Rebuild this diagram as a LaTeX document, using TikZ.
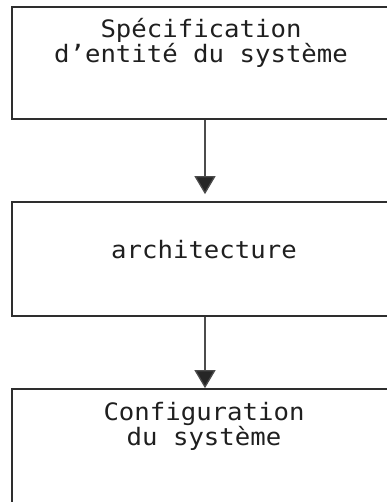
\documentclass[tikz,border=0pt]{standalone}
\usepackage{fontspec}
\newfontfamily\monofont[FakeStretch=1.07]{DejaVu Sans Mono}
\usetikzlibrary{arrows.meta}
\tikzset{
  box/.style={draw=black!82, line width=1.7pt, minimum width=386pt, inner sep=0pt},
  boxtext/.style={font=\monofont\fontsize{24}{25}\selectfont, text=black!88, align=center, inner sep=0pt, anchor=base},
  flow/.style={draw=black!70, line width=1.3pt, -{Triangle[length=18pt,width=21pt,fill=black!85]}}
}
\begin{document}
\begin{tikzpicture}[x=1pt,y=-1pt]
  \useasboundingbox (0,0) rectangle (387,502);
  \clip (0,0) rectangle (387,502);
  % the three stages
  \node[box, minimum height=112pt] (b1) at (205,63) {};
  \node[box, minimum height=114pt] (b2) at (205,259) {};
  \node[box, minimum height=130pt] (b3) at (205,454) {};
  % their labels (anchored on the baseline of the last line)
  \node[boxtext] (t1) at (201,63) {Spécification\\d’entité du système};
  \node[boxtext] (t2) at (204,258) {architecture};
  \node[boxtext] (t3) at (204,445) {Configuration\\du système};
  % flow between stages
  \draw[flow, shorten >=7pt] (b1.south) -- (b2.north);
  \draw[flow] (b2.south) -- (b3.north);
\end{tikzpicture}
\end{document}
